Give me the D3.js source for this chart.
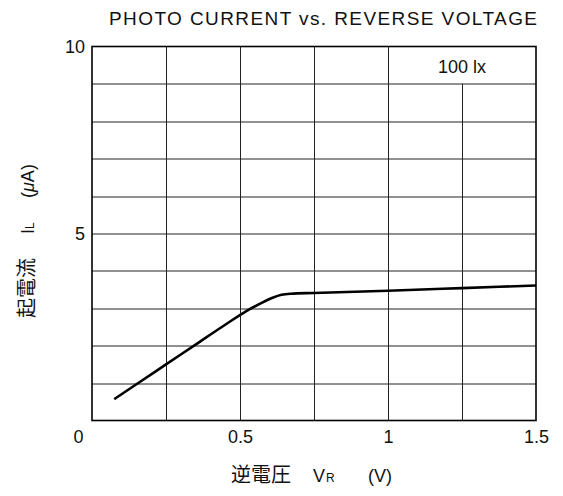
<!DOCTYPE html>
<html>
<head>
<meta charset="utf-8">
<script src="https://cdn.jsdelivr.net/npm/d3@7"></script>
<style>
  html, body { margin: 0; padding: 0; background: #fff; }
  svg { display: block; font-family: "Liberation Sans", Arial, sans-serif; }
  .jp { font-family: "Noto Sans CJK JP", "Liberation Sans", sans-serif; }
</style>
</head>
<body>
<div id="chart"></div>
<script>
// photo current vs reverse voltage, 100 lx
const voltage = [0.075, 0.15, 0.25, 0.35, 0.45, 0.52, 0.57, 0.61, 0.64, 0.67, 0.75, 1.0, 1.25, 1.5];
const current = [0.57, 0.97, 1.5, 2.03, 2.56, 2.92, 3.13, 3.28, 3.36, 3.39, 3.41, 3.47, 3.54, 3.61];
const xTicks = [0, 0.5, 1, 1.5];
const yTicks = [5, 10];
const xGrid = [0.25, 0.5, 0.75, 1.0, 1.25];
const yGrid = [1, 2, 3, 4, 5, 6, 7, 8, 9];

const W = 563, H = 496;
const margin = { top: 46.5, right: 27, bottom: 75.5, left: 92 };
const width = W - margin.left - margin.right;
const height = H - margin.top - margin.bottom;

const svg = d3.select('#chart').append('svg')
  .attr('width', W)
  .attr('height', H);

const g = svg.append('g')
  .attr('transform', `translate(${margin.left},${margin.top})`);

const x = d3.scaleLinear().domain([0, 1.5]).range([0, width]);
const y = d3.scaleLinear().domain([0, 10]).range([height, 0]);

// grid
const grid = g.append('g').attr('stroke', '#222').attr('stroke-width', 1);
yGrid.forEach(v => {
  grid.append('line')
    .attr('x1', 0).attr('x2', width)
    .attr('y1', Math.round(y(v)) + 0.5).attr('y2', Math.round(y(v)) + 0.5);
});
xGrid.forEach(v => {
  // the 100 lx label box leaves out the 1.25 line in the top row
  const top = v === 1.25 ? y(9) : 0;
  grid.append('line')
    .attr('x1', Math.round(x(v)) + 0.5).attr('x2', Math.round(x(v)) + 0.5)
    .attr('y1', top).attr('y2', height);
});

g.append('rect')
  .attr('x', 0).attr('y', 0)
  .attr('width', width).attr('height', height)
  .attr('fill', 'none')
  .attr('stroke', '#000')
  .attr('stroke-width', 1.6);

// axes, labels only
const xAxis = g.append('g')
  .attr('transform', `translate(0,${height})`)
  .call(d3.axisBottom(x).tickValues(xTicks).tickFormat(d3.format('')).tickSize(0).tickPadding(10));
xAxis.select('.domain').remove();
xAxis.selectAll('text')
  .attr('font-size', '18px')
  .attr('fill', '#111')
  .attr('font-family', '"Liberation Sans", Arial, sans-serif');
xAxis.selectAll('.tick').filter(d => d === 0).select('text').attr('dx', -14);

const yAxis = g.append('g')
  .call(d3.axisLeft(y).tickValues(yTicks).tickSize(0).tickPadding(7));
yAxis.select('.domain').remove();
yAxis.selectAll('text')
  .attr('font-size', '18px')
  .attr('fill', '#111')
  .attr('font-family', '"Liberation Sans", Arial, sans-serif');

// curve
const line = d3.line()
  .x((d, i) => x(voltage[i]))
  .y(d => y(d))
  .curve(d3.curveMonotoneX);

g.append('path')
  .datum(current)
  .attr('d', line)
  .attr('fill', 'none')
  .attr('stroke', '#000')
  .attr('stroke-width', 2.6);

// 100 lx label
g.append('text')
  .attr('x', x(1.25))
  .attr('y', y(9.46))
  .attr('dy', '0.35em')
  .attr('text-anchor', 'middle')
  .attr('font-size', '18px')
  .attr('fill', '#111')
  .text('100 lx');

// title
svg.append('text')
  .attr('x', 109)
  .attr('y', 25)
  .attr('font-size', '19px')
  .attr('textLength', 428)
  .attr('lengthAdjust', 'spacing')
  .attr('fill', '#111')
  .text('PHOTO CURRENT vs. REVERSE VOLTAGE');

// x title
const xt = svg.append('text')
  .attr('y', 482)
  .attr('font-size', '18px')
  .attr('fill', '#111');
xt.append('tspan').attr('class', 'jp').attr('x', 231).attr('font-size', '20px').text('逆電圧');
xt.append('tspan').attr('x', 313).text('V');
xt.append('tspan').attr('font-size', '12px').attr('dx', 1).text('R');
xt.append('tspan').attr('x', 368).text('(V)');

// y title
const yt = svg.append('text')
  .attr('transform', 'translate(33.5,0) rotate(-90)')
  .attr('font-size', '18px')
  .attr('fill', '#111');
yt.append('tspan').attr('class', 'jp').attr('x', -318).attr('font-size', '20px').text('起電流');
yt.append('tspan').attr('x', -234).text('I');
yt.append('tspan').attr('font-size', '12px').text('L');
yt.append('tspan').attr('x', -198).text('(');
yt.append('tspan').attr('font-style', 'italic').text('μ');
yt.append('tspan').text('A)');
</script>
</body>
</html>
